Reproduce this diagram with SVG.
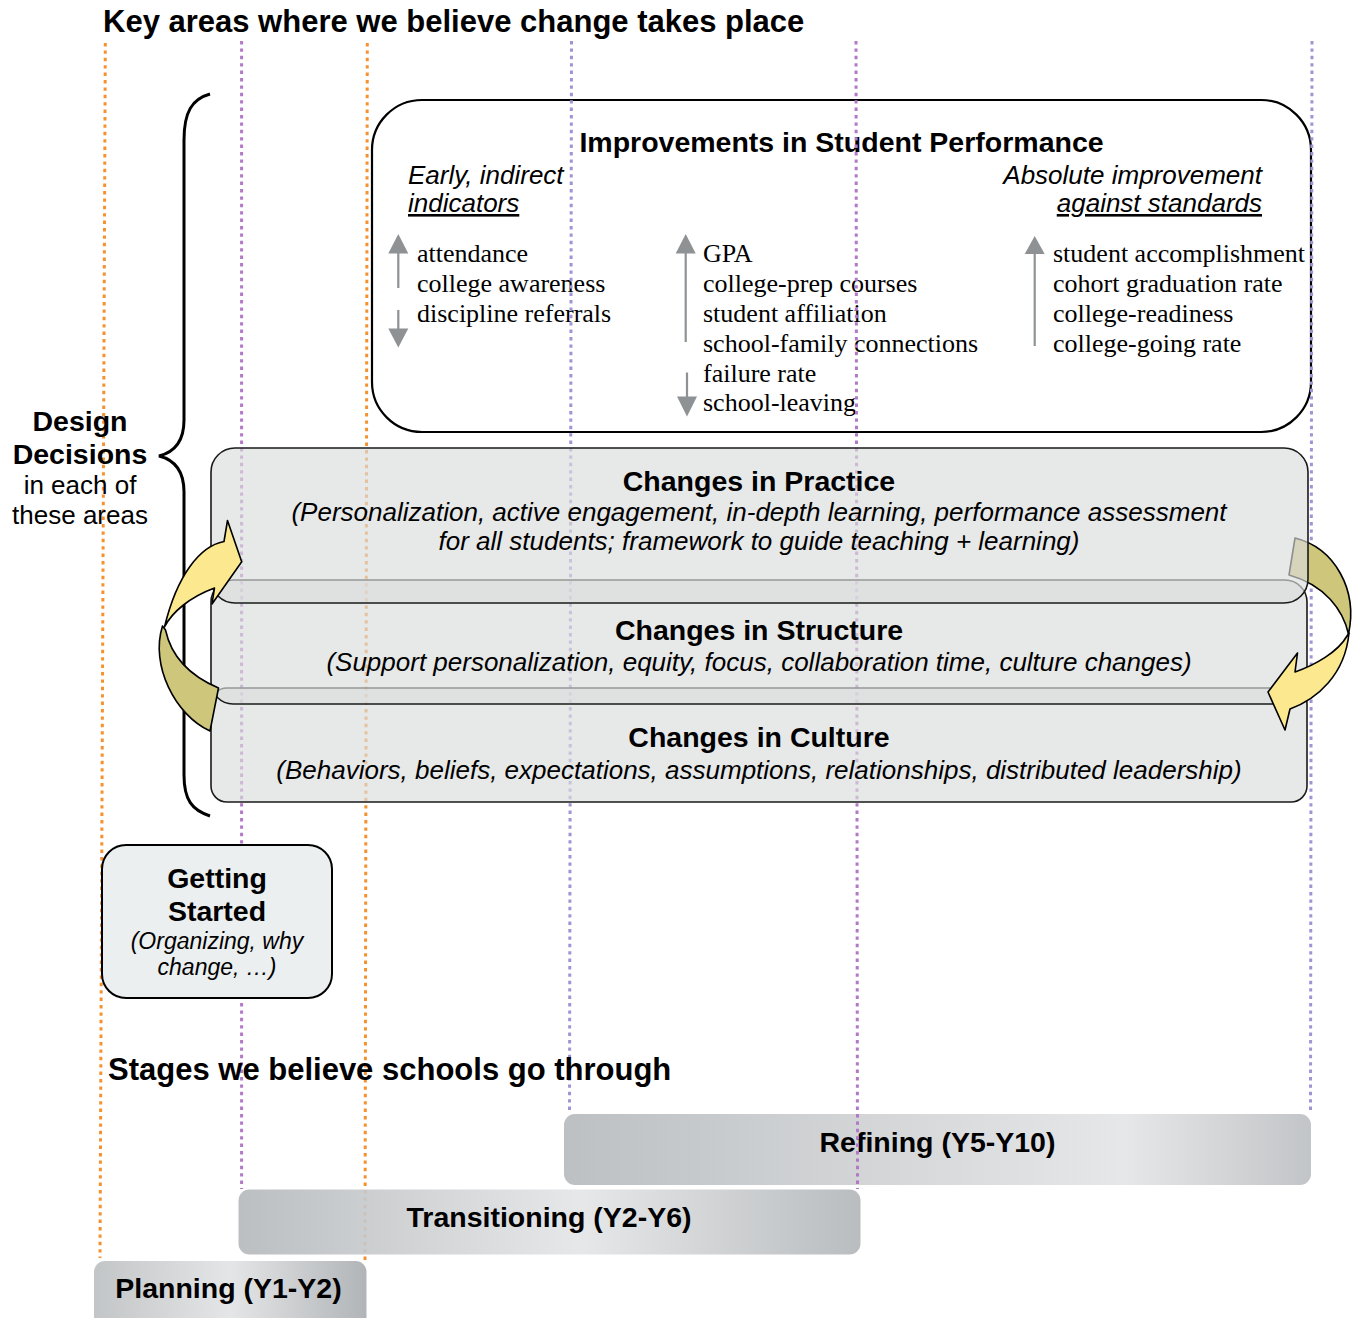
<svg xmlns="http://www.w3.org/2000/svg" width="1362" height="1318" viewBox="0 0 1362 1318">
<style>
.sans{font-family:"Liberation Sans",Arial,sans-serif;fill:#000}
.h1{font-weight:bold;font-size:31px}
.bt{font-weight:bold;font-size:28.5px;text-anchor:middle}
.it{font-style:italic;font-size:26px}
.itc{font-style:italic;font-size:26px;text-anchor:middle}
.serif{font-family:"Liberation Serif","Times New Roman",serif;font-size:26px;fill:#000}
.dot{fill:none;stroke-width:3;stroke-dasharray:3.4 4}
.or{stroke:#F5922F}
.pu{stroke:#B179C6}
.lv{stroke:#A094D6}
.band{fill:#DADCDC;fill-opacity:0.65;stroke:#1a1a1a;stroke-width:1.6}
.ga{fill:#8E9294}
.gs{stroke:#8E9294;stroke-width:2.2}
.yel{fill:#FCE98F;stroke:#000;stroke-width:1.6;stroke-linejoin:round}
.oli{fill:#CEC67B;stroke:#000;stroke-width:1.6;stroke-linejoin:round}
</style>
<defs>
<linearGradient id="gP" x1="0" y1="0" x2="1" y2="0">
<stop offset="0" stop-color="#BFC2C4"/><stop offset="0.5" stop-color="#E3E4E5"/><stop offset="1" stop-color="#ADB1B4"/>
</linearGradient>
<linearGradient id="gT" x1="0" y1="0" x2="1" y2="0">
<stop offset="0" stop-color="#B4B8BB"/><stop offset="0.55" stop-color="#E4E5E6"/><stop offset="1" stop-color="#B2B6B9"/>
</linearGradient>
<linearGradient id="gR" x1="0" y1="0" x2="1" y2="0">
<stop offset="0" stop-color="#B7BBBE"/><stop offset="0.75" stop-color="#E4E5E6"/><stop offset="1" stop-color="#BDC0C3"/>
</linearGradient>
</defs>
<rect width="1362" height="1318" fill="#fff"/>

<text class="sans h1" x="103" y="32">Key areas where we believe change takes place</text>

<g id="student-performance">
<rect x="372" y="100" width="939" height="332" rx="50" fill="#fff" stroke="#000" stroke-width="2.2"/>
<text class="sans bt" x="841.5" y="152">Improvements in Student Performance</text>
<text class="sans it" x="408" y="184">Early, indirect</text>
<text class="sans it" x="408" y="212" text-decoration="underline">indicators</text>
<text class="sans it" x="1262" y="184" text-anchor="end">Absolute improvement</text>
<text class="sans it" x="1262" y="212" text-anchor="end" text-decoration="underline">against standards</text>
<polygon class="ga" points="398.3,234 388.3,253.5 408.3,253.5"/>
<line class="gs" x1="398.3" y1="253" x2="398.3" y2="288"/>
<line class="gs" x1="398.3" y1="310" x2="398.3" y2="329"/>
<polygon class="ga" points="398.3,347.5 388.3,328.5 408.3,328.5"/>
<text class="serif" x="417" y="262">attendance</text>
<text class="serif" x="417" y="292">college awareness</text>
<text class="serif" x="417" y="322">discipline referrals</text>
<polygon class="ga" points="685.7,234 675.7,253.5 695.7,253.5"/>
<line class="gs" x1="685.7" y1="253" x2="685.7" y2="342"/>
<line class="gs" x1="687" y1="372.5" x2="687" y2="397"/>
<polygon class="ga" points="687,416.5 677,396.5 697,396.5"/>
<text class="serif" x="703" y="262">GPA</text>
<text class="serif" x="703" y="292">college-prep courses</text>
<text class="serif" x="703" y="322">student affiliation</text>
<text class="serif" x="703" y="352">school-family connections</text>
<text class="serif" x="703" y="382">failure rate</text>
<text class="serif" x="703" y="411">school-leaving</text>
<polygon class="ga" points="1034.7,236 1024.7,254 1044.7,254"/>
<line class="gs" x1="1034.7" y1="253" x2="1034.7" y2="346"/>
<text class="serif" x="1053" y="262">student accomplishment</text>
<text class="serif" x="1053" y="292">cohort graduation rate</text>
<text class="serif" x="1053" y="322">college-readiness</text>
<text class="serif" x="1053" y="352">college-going rate</text>
</g>

<g id="stage-lines">
<line class="dot or" x1="105.3" y1="43" x2="100" y2="1258"/>
<line class="dot pu" x1="241.6" y1="41" x2="241.6" y2="1189"/>
<line class="dot or" x1="367.3" y1="43" x2="365" y2="1264"/>
<line class="dot lv" x1="571.5" y1="41" x2="569.5" y2="1114"/>
<line class="dot pu" x1="856" y1="41" x2="857.5" y2="1189"/>
<line class="dot lv" x1="1312" y1="41" x2="1310.5" y2="1114"/>
</g>

<g id="brace">
<path d="M210,94 C192,99 184,112 184,140 L184,420 C184,441 175,452 159,456 C175,460 184,471 184,492 L184,775 C184,800 192,810 210,816" fill="none" stroke="#000" stroke-width="3"/>
</g>
<g id="design-decisions">
<text class="sans bt" x="80" y="431">Design</text>
<text class="sans bt" x="80" y="464">Decisions</text>
<text class="sans" x="80" y="494" font-size="26" text-anchor="middle">in each of</text>
<text class="sans" x="80" y="524" font-size="26" text-anchor="middle">these areas</text>
</g>

<g id="changes-culture">
<rect class="band" x="211" y="688" width="1096" height="114" rx="16"/>
<text class="sans bt" x="759" y="747">Changes in Culture</text>
<text class="sans itc" x="759" y="779">(Behaviors, beliefs, expectations, assumptions, relationships, distributed leadership)</text>
</g>
<g id="changes-structure">
<rect class="band" x="211" y="580" width="1096" height="124" rx="22"/>
<text class="sans bt" x="759" y="640">Changes in Structure</text>
<text class="sans itc" x="759" y="671">(Support personalization, equity, focus, collaboration time, culture changes)</text>
</g>

<g id="connectors">
<path class="oli" d="M1295,538 C1335,548 1358,590 1348.5,634 C1343,610 1325,585 1289,575 Z"/>
</g>

<g id="changes-practice">
<rect class="band" x="211" y="448" width="1097" height="155" rx="24"/>
<text class="sans bt" x="759" y="491">Changes in Practice</text>
<text class="sans itc" x="759" y="521">(Personalization, active engagement, in-depth learning, performance assessment</text>
<text class="sans itc" x="759" y="550">for all students; framework to guide teaching + learning)</text>
</g>

<g id="connectors-front">
<path class="yel" d="M1349,633 C1345,675 1317,699 1290,709 L1285,730 L1268,692 L1297.5,653 L1295,672 C1315,665 1338,652 1347,636 Z"/>
<path class="oli" d="M162.5,626 C150,665 175,715 210,731 L218.5,688 C195,678 172,660 165.5,630 Z"/>
<path class="yel" d="M241.7,561.7 L227.5,520.5 L224,541.5 C200,546 177,575 164.5,627 C172,612 190,597 214.5,588 L212,604 Z"/>
</g>

<g id="getting-started">
<rect x="102" y="845" width="230" height="153" rx="24" fill="#ECEFF0" stroke="#000" stroke-width="2"/>
<text class="sans bt" x="217" y="888" font-size="28">Getting</text>
<text class="sans bt" x="217" y="921" font-size="28">Started</text>
<text class="sans" x="217" y="949" font-size="23" font-style="italic" text-anchor="middle">(Organizing, why</text>
<text class="sans" x="217" y="975" font-size="23" font-style="italic" text-anchor="middle">change, …)</text>
</g>

<text class="sans h1" x="108" y="1080">Stages we believe schools go through</text>

<g id="refining">
<rect x="564" y="1114" width="747" height="71" rx="11" fill="url(#gR)" fill-opacity="0.92"/>
<text class="sans bt" x="937.5" y="1152">Refining (Y5-Y10)</text>
</g>
<line class="dot pu" x1="857.5" y1="1114" x2="857.5" y2="1189"/>
<g id="transitioning">
<rect x="238.5" y="1189.5" width="622" height="65" rx="11" fill="url(#gT)" fill-opacity="0.9"/>
<text class="sans bt" x="549" y="1227">Transitioning (Y2-Y6)</text>
</g>
<g id="planning">
<rect x="94" y="1261" width="272.5" height="70" rx="11" fill="url(#gP)" fill-opacity="0.95"/>
<text class="sans bt" x="228.5" y="1298">Planning (Y1-Y2)</text>
</g>
</svg>
